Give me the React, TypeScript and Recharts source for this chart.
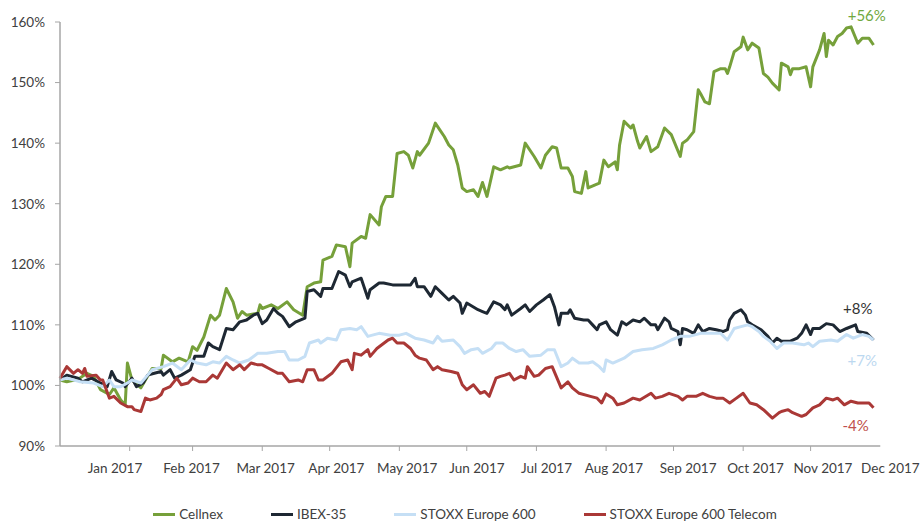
import { LineChart, Line, XAxis, YAxis, Legend, ReferenceDot, ReferenceLine } from "recharts";

// x values are days of 2017 (0 = 1 Jan), y values are % of the starting level
const cellnexDays = [0, 3, 8, 12, 15, 18, 22, 24, 27, 29, 30, 32, 36, 39, 41, 45, 46, 50, 53, 57, 59, 61, 64, 67, 69, 71, 74, 77, 79, 81, 83, 88, 89, 90, 94, 97, 101, 104, 108, 110, 113, 116, 117, 121, 123, 127, 129, 130, 134, 136, 138, 142, 143, 145, 148, 150, 153, 155, 157, 159, 160, 164, 167, 169, 171, 173, 175, 177, 179, 181, 184, 186, 188, 190, 193, 196, 199, 200, 205, 207, 211, 214, 216, 219, 221, 223, 226, 228, 229, 232, 234, 235, 240, 242, 244, 247, 248, 249, 251, 254, 255, 257, 258, 261, 263, 266, 269, 272, 276, 277, 279, 282, 284, 285, 287, 289, 291, 294, 296, 297, 298, 300, 303, 304, 306, 308, 311, 313, 315, 317, 320, 321, 324, 325, 326, 329, 332, 334, 335, 338, 340, 341, 342, 344, 346, 348, 350, 352, 355, 357, 360, 362];
const cellnexValues = [100.9, 100.6, 101, 102, 101.5, 99.3, 98.5, 99.6, 97.6, 96.8, 103.7, 100.9, 99.6, 101.5, 102.8, 102.8, 105, 103.9, 104.5, 103.9, 106.4, 105.8, 108, 111.6, 110.8, 111.6, 116, 113.8, 111.1, 112.2, 111.6, 111.9, 113.3, 112.7, 113.3, 112.7, 113.8, 112.5, 111.6, 116.3, 116.9, 117.1, 120.7, 121.3, 123.2, 122.9, 119.6, 123.5, 124.6, 124.3, 128.2, 126.5, 129.5, 131.2, 131.2, 138.3, 138.6, 138, 135.9, 138.6, 138, 140, 143.3, 142.2, 141.1, 139.7, 138.9, 136.4, 132.6, 132, 132.3, 131.2, 133.5, 131.2, 136.1, 135.6, 136.1, 135.9, 136.4, 140, 137.8, 135.9, 138, 139.4, 139.2, 135.9, 135.9, 134.5, 132, 131.7, 135.3, 132.6, 133.4, 137.2, 136.1, 136.9, 135.6, 139.7, 143.6, 142.5, 143, 140.3, 139.2, 141.1, 138.6, 139.4, 142.5, 141.4, 137.8, 140, 140.5, 141.9, 148.8, 148.2, 146.8, 146.5, 151.8, 152.3, 152.3, 151.5, 152.6, 155.1, 155.9, 157.5, 155.4, 156.5, 155.7, 151.5, 150.9, 149.9, 148.8, 153.2, 152.6, 151.3, 152.3, 152.3, 152.6, 149.3, 152.6, 155.4, 158.1, 154.3, 157, 156.2, 157.6, 158.1, 159, 159.2, 156.5, 157.3, 157.3, 156.2];

const ibexDays = [0, 3, 8, 10, 14, 18, 21, 23, 25, 28, 29, 32, 34, 37, 39, 42, 45, 46, 49, 51, 54, 58, 60, 64, 66, 68, 71, 74, 77, 80, 83, 86, 88, 90, 92, 95, 97, 99, 102, 105, 109, 110, 113, 116, 117, 121, 124, 127, 129, 130, 134, 137, 138, 142, 144, 148, 151, 156, 158, 159, 162, 165, 167, 170, 173, 175, 178, 179, 181, 186, 188, 190, 193, 196, 198, 199, 201, 205, 207, 209, 212, 215, 218, 220, 222, 223, 226, 227, 229, 233, 235, 237, 239, 240, 243, 245, 248, 250, 252, 255, 258, 260, 263, 265, 266, 269, 271, 272, 275, 276, 277, 279, 282, 284, 286, 289, 292, 295, 297, 298, 300, 303, 305, 306, 308, 312, 315, 317, 319, 321, 325, 328, 330, 332, 334, 335, 338, 341, 344, 347, 350, 354, 355, 359, 362];
const ibexValues = [100.9, 101.7, 101.2, 100.6, 101.2, 100.4, 99.8, 102.3, 100.9, 100.4, 99.8, 101.2, 99.8, 100.4, 101.7, 102, 102.3, 101.7, 102.6, 101.2, 101.7, 102.6, 104.8, 104.8, 107, 106.4, 105.9, 109.4, 109.2, 110.5, 110.8, 111.6, 111.9, 110.2, 110.8, 112.7, 111.9, 111.4, 109.7, 110.5, 111.1, 115.5, 115.8, 114.7, 116, 116, 118.8, 118.2, 116.3, 117.1, 117.7, 114.4, 115.8, 116.9, 116.9, 116.6, 116.6, 116.6, 117.7, 116.3, 116.3, 114.7, 116.3, 115.2, 114.1, 114.7, 113.6, 111.9, 113.6, 112.5, 112.2, 111.9, 113.8, 113.3, 112.5, 113.3, 111.6, 112.7, 113.3, 112.2, 113.3, 114.1, 115, 113, 110, 111.9, 111.9, 112.5, 111.1, 110.8, 110.8, 110, 109.2, 110, 110.5, 109.2, 108.3, 110.5, 110, 110.8, 110.5, 111.1, 110, 110, 109.2, 111.1, 110.5, 109.4, 108.9, 106.7, 109.4, 109.2, 108.6, 110, 108.9, 109.4, 109.2, 108.9, 109.2, 110.8, 111.9, 112.5, 111.6, 110.5, 110, 109.2, 108.1, 107, 107.8, 107.3, 107.3, 107.8, 108.6, 110, 108.4, 109.4, 109.4, 110.2, 110, 108.9, 109.4, 110, 108.9, 108.6, 107.5];

const stoxxDays = [0, 3, 9, 15, 19, 22, 24, 27, 30, 32, 36, 39, 41, 46, 50, 54, 58, 61, 65, 68, 71, 74, 77, 80, 84, 88, 92, 97, 100, 102, 106, 109, 111, 115, 116, 119, 123, 125, 129, 132, 134, 137, 139, 142, 147, 151, 154, 158, 162, 166, 168, 170, 175, 178, 180, 183, 186, 188, 192, 194, 197, 200, 203, 206, 209, 214, 217, 220, 223, 226, 228, 231, 235, 237, 240, 242, 243, 246, 251, 255, 259, 264, 268, 272, 276, 280, 285, 289, 294, 297, 300, 303, 306, 308, 311, 313, 316, 319, 322, 326, 331, 333, 335, 338, 343, 346, 350, 353, 357, 360, 362];
const stoxxValues = [100.9, 101.2, 100.6, 100.4, 99.8, 100.9, 99.8, 99.8, 100.4, 100.9, 100.4, 101.7, 102.6, 103.1, 103.7, 102.6, 104.2, 103.7, 103.4, 103.9, 103.7, 104.8, 104.2, 103.7, 104.2, 105.3, 105.3, 105.6, 105.6, 104.2, 104.2, 104.8, 107, 107.5, 107, 107.8, 107.5, 109.2, 109.4, 109.2, 109.7, 108.1, 108.3, 108.6, 108.3, 108.3, 108.6, 107.8, 107.5, 107, 108.1, 107.3, 107.5, 106.4, 105.3, 105.9, 106.1, 105.3, 106.1, 107, 107, 106.1, 105.6, 105.9, 104.8, 105, 105.9, 105.9, 103.1, 103.7, 104.5, 103.7, 103.7, 103.9, 103.1, 102.3, 104.2, 103.7, 104.5, 105.6, 105.9, 106.1, 106.7, 107.5, 108.1, 108.1, 108.6, 108.6, 108.6, 107.5, 109.4, 109.7, 110, 109.7, 108.9, 108.1, 107.3, 106.1, 107, 107, 106.7, 107, 106.4, 107.3, 107.5, 107.3, 108.4, 107.8, 108.4, 108.1, 107.5];

const telecomDays = [0, 3, 6, 8, 10, 11, 12, 16, 18, 19, 22, 24, 27, 30, 32, 33, 36, 38, 40, 43, 45, 46, 49, 52, 54, 57, 59, 62, 65, 68, 70, 74, 77, 80, 82, 85, 88, 90, 93, 97, 99, 102, 106, 108, 110, 113, 115, 117, 121, 125, 128, 130, 131, 134, 137, 138, 141, 146, 148, 150, 153, 156, 158, 160, 163, 166, 168, 170, 174, 177, 179, 181, 184, 187, 189, 191, 194, 196, 198, 200, 202, 205, 207, 208, 211, 213, 216, 219, 223, 226, 228, 231, 236, 239, 241, 243, 246, 248, 251, 255, 258, 263, 265, 268, 271, 275, 277, 279, 283, 286, 289, 292, 295, 298, 301, 304, 307, 310, 313, 317, 320, 321, 324, 326, 330, 332, 335, 338, 341, 344, 346, 349, 352, 355, 357, 360, 362];
const telecomValues = [101.2, 103.1, 102, 102.6, 102, 102.8, 101.5, 101.7, 100.9, 100.9, 97.9, 98.2, 97.1, 96.5, 96.5, 96, 95.7, 97.9, 97.6, 97.9, 98.5, 99.3, 99.8, 101.2, 100.1, 100.4, 101.2, 100.6, 100.6, 101.7, 101.2, 103.7, 102.6, 103.4, 102.6, 103.7, 103.4, 103.4, 102.8, 102, 102, 100.6, 100.9, 100.6, 102.6, 102.6, 100.9, 100.9, 102, 103.9, 104.2, 102.6, 105.3, 105, 105.9, 104.8, 106.1, 107.5, 107.8, 107, 107, 106.1, 105, 104.5, 104.2, 102.6, 103.1, 102.6, 102.3, 102, 100.1, 99.3, 100.1, 98.7, 99, 98.2, 101.2, 101.5, 101.7, 102, 100.9, 101.5, 101.2, 103.1, 101.5, 101.7, 102.8, 103.1, 99.6, 100.6, 99.6, 98.7, 98.2, 97.9, 97.1, 98.6, 97.9, 96.8, 97.1, 97.9, 97.6, 98.7, 97.9, 98.2, 98.7, 98.2, 97.6, 98.2, 98.2, 98.7, 98.2, 97.9, 97.9, 97.1, 97.9, 98.7, 97.1, 96.8, 96, 94.6, 95.5, 95.7, 96, 95.5, 94.9, 95.2, 96.3, 96.8, 97.9, 97.6, 97.9, 96.8, 97.4, 97.1, 97.1, 97.1, 96.3];

const monthStarts = [31, 59, 90, 120, 151, 181, 212, 243, 273, 304, 334];
const monthLabels = ["Jan 2017", "Feb 2017", "Mar 2017", "Apr 2017", "May 2017", "Jun 2017", "Jul 2017", "Aug 2017", "Sep 2017", "Oct 2017", "Nov 2017", "Dec 2017"];
const monthLabelDays = [24.5, 58.5, 91.5, 123, 154.5, 185.5, 216.5, 246.5, 279.5, 309.5, 339.5, 369.5];
const yTicks = [90, 100, 110, 120, 130, 140, 150, 160];

const changeTexts = ["+56%", "+8%", "+7%", "-4%"];
const changeDays = [359, 355, 357, 354];
const changeValues = [161, 112.6, 104.1, 93.3];
const changeColors = ["#70a83e", "#333333", "#bcd8f0", "#c0504d"];

const toPoints = (days: number[], values: number[]) => days.map((day, i) => ({ day, v: values[i] }));

const series = [
  { name: "Cellnex", color: "#76a03a", data: toPoints(cellnexDays, cellnexValues) },
  { name: "IBEX-35", color: "#1e2833", data: toPoints(ibexDays, ibexValues) },
  { name: "STOXX Europe 600", color: "#c5dff5", data: toPoints(stoxxDays, stoxxValues) },
  { name: "STOXX Europe 600 Telecom", color: "#aa3836", data: toPoints(telecomDays, telecomValues) },
];

const FONT = "Lato, 'Open Sans', sans-serif";
const AXIS = "#a6a6a6";
const TEXT = "#404040";

// month-start ticks get a small mark, label ticks get the month name
const MonthTick = ({ x, y, payload }: any) => {
  const i = monthLabelDays.indexOf(payload.value);
  if (i < 0) return <line x1={x} x2={x} y1={y} y2={y + 5} stroke={AXIS} />;
  return (
    <text x={x} y={y + 27} textAnchor="middle" fill={TEXT} fontSize={13.5} fontFamily={FONT}>
      {monthLabels[i]}
    </text>
  );
};

const LegendContent = () => (
  <div
    style={{
      display: "flex",
      justifyContent: "center",
      gap: 48,
      paddingLeft: 34,
      fontFamily: FONT,
      fontSize: 13.5,
      lineHeight: "16px",
      color: TEXT,
    }}
  >
    {series.map((s) => (
      <div key={s.name} style={{ display: "flex", alignItems: "center" }}>
        <span style={{ display: "inline-block", width: 22, height: 3, background: s.color, marginRight: 4 }} />
        {s.name}
      </div>
    ))}
  </div>
);

export default function App() {
  return (
    <div style={{ position: "absolute", left: 0, top: 0, background: "#fff" }}>
      <LineChart width={920} height={522} margin={{ top: 22, right: 24, left: 0, bottom: 22 }}>
        <XAxis
          xAxisId="main"
          type="number"
          dataKey="day"
          domain={[0, 372]}
          ticks={[...monthStarts, ...monthLabelDays].sort((a, b) => a - b)}
          interval={0}
          tick={<MonthTick />}
          tickLine={false}
          tickSize={0}
          tickMargin={0}
          axisLine={false}
          height={38}
        />
        <YAxis
          type="number"
          domain={[90, 160]}
          ticks={yTicks}
          interval={0}
          width={60}
          tickFormatter={(v: number) => `${v}%`}
          tick={{ fill: TEXT, fontSize: 13.5, fontFamily: FONT }}
          tickLine={{ stroke: AXIS }}
          tickSize={5}
          tickMargin={10}
          axisLine={{ stroke: AXIS, strokeWidth: 1.5 }}
        />
        <ReferenceLine
          xAxisId="main"
          segment={[{ x: 0, y: 90 }, { x: 365, y: 90 }]}
          stroke={AXIS}
          strokeWidth={1.5}
        />
        {series.map((s) => (
          <Line
            key={s.name}
            xAxisId="main"
            data={s.data}
            dataKey="v"
            name={s.name}
            type="linear"
            stroke={s.color}
            strokeWidth={3}
            strokeLinejoin="round"
            dot={false}
            activeDot={false}
            isAnimationActive={false}
          />
        ))}
        {changeTexts.map((t, i) => (
          <ReferenceDot
            key={t}
            xAxisId="main"
            x={changeDays[i]}
            y={changeValues[i]}
            r={0}
            fill="none"
            stroke="none"
            ifOverflow="visible"
            label={{ value: t, position: "center", fill: changeColors[i], fontSize: 15, fontFamily: FONT }}
          />
        ))}
        <Legend verticalAlign="bottom" content={<LegendContent />} wrapperStyle={{ bottom: 0 }} />
      </LineChart>
    </div>
  );
}
